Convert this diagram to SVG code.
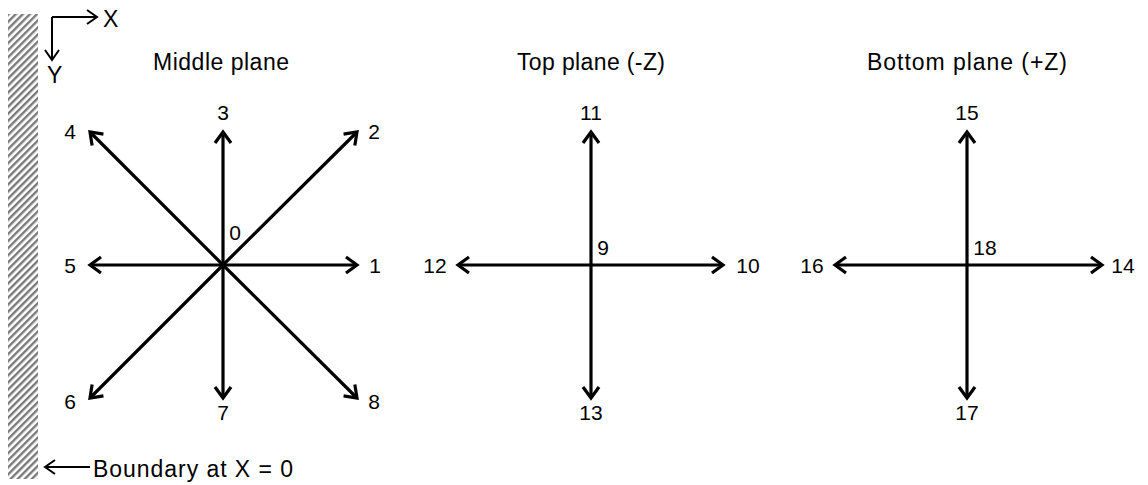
<svg xmlns="http://www.w3.org/2000/svg" width="1148" height="485" viewBox="0 0 1148 485">
<style>
  text { font-family: "Liberation Sans", Arial, sans-serif; fill: #000; }
  .num { font-size: 21px; text-anchor: middle; }
  .title { font-size: 23px; }
  .vec { stroke: #000; stroke-width: 3.2; fill: none; marker-end: url(#ah); }
  .thin { stroke: #000; stroke-width: 2; fill: none; marker-end: url(#ahthin); }
</style>
<defs>
  <marker id="ah" markerUnits="userSpaceOnUse" markerWidth="24" markerHeight="24" refX="0" refY="0" viewBox="-16 -12 20 24" orient="auto">
    <path d="M -11 -8 L 0 0 L -11 8" stroke="#000" stroke-width="3.2" fill="none" stroke-linejoin="miter"/>
  </marker>
  <marker id="ahthin" markerUnits="userSpaceOnUse" markerWidth="20" markerHeight="20" refX="0" refY="0" viewBox="-14 -10 16 20" orient="auto">
    <path d="M -10 -7 L 0 0 L -10 7" stroke="#000" stroke-width="2" fill="none"/>
  </marker>
  <pattern id="hatch" patternUnits="userSpaceOnUse" width="5" height="5" patternTransform="rotate(45)">
    <rect x="0" y="0" width="5" height="5" fill="#fff"/>
    <rect x="0" y="0" width="2.4" height="5" fill="#7a7a7a"/>
  </pattern>
</defs>

<g id="wall">
  <rect x="8" y="14" width="30" height="465" fill="url(#hatch)"/>
</g>

<g id="axes">
  <path d="M 52 17 L 97 17" class="thin"/>
  <path d="M 52 17 L 52 60" class="thin"/>
  <text x="103" y="27" style="font-size:23px">X</text>
  <text x="47" y="83" style="font-size:23px">Y</text>
</g>

<g id="boundary">
  <path d="M 90 467 L 45 467" class="thin"/>
  <text x="93" y="477" class="title" textLength="200" lengthAdjust="spacing">Boundary at X = 0</text>
</g>

<g id="titles">
  <text id="t-middle" x="153" y="70" class="title" textLength="136" lengthAdjust="spacing">Middle plane</text>
  <text id="t-top" x="517" y="70" class="title" textLength="148" lengthAdjust="spacing">Top plane (-Z)</text>
  <text id="t-bottom" x="867" y="70" class="title" textLength="200" lengthAdjust="spacing">Bottom plane (+Z)</text>
</g>

<g id="connectors">
  <!-- middle plane -->
  <path d="M 223 265 L 357 265" class="vec"/>
  <path d="M 223 265 L 90 265" class="vec"/>
  <path d="M 223 265 L 223 132" class="vec"/>
  <path d="M 223 265 L 223 398" class="vec"/>
  <path d="M 223 265 L 357 132" class="vec"/>
  <path d="M 223 265 L 90 132" class="vec"/>
  <path d="M 223 265 L 90 398" class="vec"/>
  <path d="M 223 265 L 357 398" class="vec"/>
  <!-- top plane -->
  <path d="M 591 265 L 723 265" class="vec"/>
  <path d="M 591 265 L 458 265" class="vec"/>
  <path d="M 591 265 L 591 132" class="vec"/>
  <path d="M 591 265 L 591 398" class="vec"/>
  <!-- bottom plane -->
  <path d="M 967 265 L 1102 265" class="vec"/>
  <path d="M 967 265 L 835 265" class="vec"/>
  <path d="M 967 265 L 967 132" class="vec"/>
  <path d="M 967 265 L 967 398" class="vec"/>
</g>

<g id="labels-middle">
  <text id="n0" x="235" y="240" class="num">0</text>
  <text id="n1" x="375" y="273" class="num">1</text>
  <text id="n2" x="374" y="139" class="num">2</text>
  <text id="n3" x="223" y="120" class="num">3</text>
  <text id="n4" x="70" y="139" class="num">4</text>
  <text id="n5" x="70" y="273" class="num">5</text>
  <text id="n6" x="70" y="409" class="num">6</text>
  <text id="n7" x="223" y="420" class="num">7</text>
  <text id="n8" x="374" y="409" class="num">8</text>
</g>
<g id="labels-top">
  <text id="n9" x="603" y="255" class="num">9</text>
  <text id="n10" x="748" y="273" class="num">10</text>
  <text id="n11" x="591" y="120" class="num">11</text>
  <text id="n12" x="435" y="273" class="num">12</text>
  <text id="n13" x="591" y="420" class="num">13</text>
</g>
<g id="labels-bottom">
  <text id="n14" x="1123" y="273" class="num">14</text>
  <text id="n15" x="967" y="120" class="num">15</text>
  <text id="n16" x="812" y="273" class="num">16</text>
  <text id="n17" x="967" y="420" class="num">17</text>
  <text id="n18" x="985" y="255" class="num">18</text>
</g>
</svg>
